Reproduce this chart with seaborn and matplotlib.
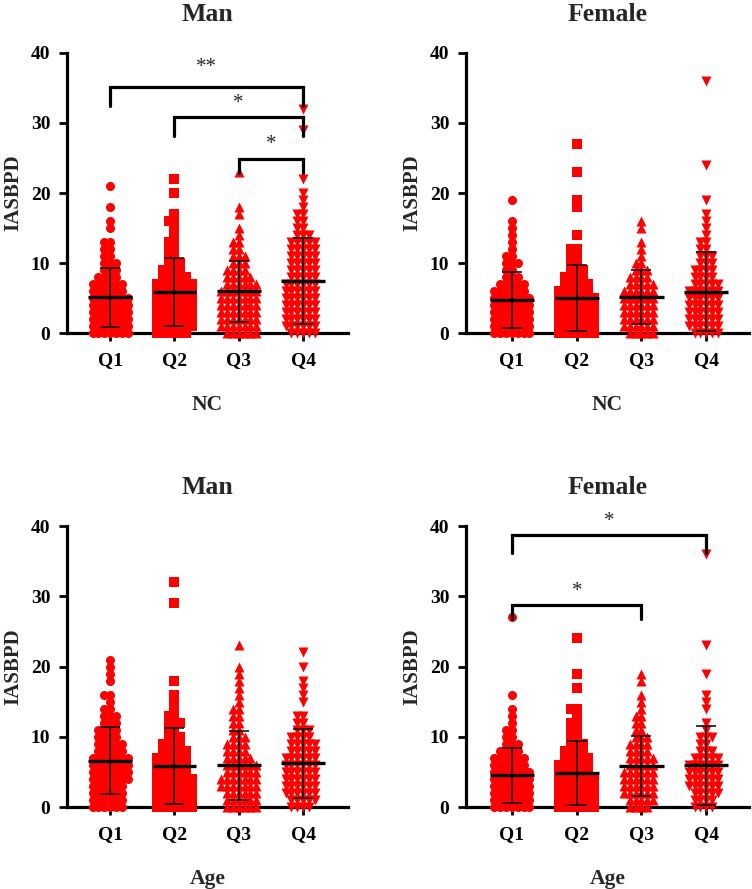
import numpy as np
import matplotlib
matplotlib.use("Agg")
import matplotlib.pyplot as plt
import seaborn as sns

sns.set_theme(style="ticks")
plt.rcParams["font.family"] = ["Liberation Serif", "DejaVu Serif"]
plt.rcParams["font.weight"] = "bold"
plt.rcParams["axes.labelweight"] = "bold"
plt.rcParams["axes.titleweight"] = "bold"

quartiles = ["Q1", "Q2", "Q3", "Q4"]
markers = ["o", "s", "^", "v"]

# number of subjects at each IASBPD score (list index = score) + isolated high scores
man_nc_q1 = [7, 7, 7, 7, 7, 7, 6, 6, 4, 3, 3, 2, 2, 2, 0, 1, 1, 0, 1, 0, 0, 1]
man_nc_q2 = [6, 7, 7, 7, 7, 7, 7, 7, 5, 4, 3, 2, 2, 2, 1, 1, 2, 1, 0, 0, 1, 0, 1]
man_nc_q3 = [6, 7, 7, 7, 7, 7, 7, 6, 5, 4, 3, 3, 2, 2, 1, 1, 0, 1, 1, 0, 0, 0, 0, 1]
man_nc_q4 = [5, 6, 6, 6, 6, 6, 6, 6, 5, 5, 5, 5, 5, 5, 3, 2, 2, 2, 1, 1, 1, 0, 1]
man_nc_q4_high = [29, 32]

fem_nc_q1 = [7, 7, 7, 7, 7, 7, 6, 5, 3, 2, 3, 2, 1, 1, 1, 1, 1, 0, 0, 1]
fem_nc_q2 = [7, 7, 7, 7, 7, 7, 6, 5, 4, 3, 2, 2, 2, 0, 1, 0, 0, 0, 1, 1]
fem_nc_q2_high = [23, 27]
fem_nc_q3 = [5, 6, 6, 6, 6, 6, 6, 5, 4, 3, 2, 1, 1, 1, 0, 1, 1]
fem_nc_q4 = [5, 6, 6, 6, 6, 6, 6, 5, 4, 4, 3, 3, 2, 2, 1, 1, 1, 1, 0, 1]
fem_nc_q4_high = [24, 36]

man_age_q1 = [6, 6, 6, 6, 7, 7, 7, 7, 5, 5, 4, 4, 3, 3, 2, 1, 2, 0, 1, 1, 1, 1]
man_age_q2 = [7, 7, 7, 7, 7, 6, 6, 6, 5, 4, 3, 2, 3, 2, 1, 1, 1, 0, 1]
man_age_q2_high = [29, 32]
man_age_q3 = [6, 6, 6, 7, 7, 6, 6, 5, 4, 4, 3, 2, 2, 2, 2, 1, 1, 1, 1, 1, 1, 0, 0, 1]
man_age_q4 = [4, 5, 6, 6, 6, 6, 6, 6, 5, 5, 4, 3, 2, 2, 0, 1, 1, 1, 1, 0, 1, 0, 1]

fem_age_q1 = [7, 7, 7, 7, 7, 7, 6, 6, 4, 3, 2, 2, 1, 1, 1, 0, 1]
fem_age_q1_high = [27]
fem_age_q2 = [7, 7, 7, 7, 7, 6, 6, 5, 4, 3, 2, 2, 2, 1, 2, 0, 0, 1, 0, 1]
fem_age_q2_high = [24]
fem_age_q3 = [4, 5, 6, 6, 6, 6, 5, 5, 4, 4, 3, 2, 2, 2, 1, 1, 1, 0, 1, 1]
fem_age_q4 = [4, 4, 5, 6, 6, 6, 6, 5, 3, 2, 3, 1, 1, 0, 1, 1, 1, 0, 0, 1]
fem_age_q4_high = [23, 36]

# mean and SD
man_nc_mean = [5.1, 5.9, 5.95, 7.45]
man_nc_sd = [4.25, 4.85, 4.35, 6.15]
fem_nc_mean = [4.7, 5.0, 5.1, 5.9]
fem_nc_sd = [4.05, 4.7, 3.85, 5.65]
man_age_mean = [6.6, 5.8, 5.95, 6.2]
man_age_sd = [4.8, 5.4, 4.9, 4.85]
fem_age_mean = [4.5, 4.85, 5.8, 5.95]
fem_age_sd = [3.9, 4.5, 4.25, 5.6]


def expand(counts, high=()):
    vals = np.repeat(np.arange(len(counts)), counts)
    return np.concatenate([vals, np.asarray(high)]).astype(float)


panels = [
    dict(title="Man", xlabel="NC", rect=[0.0891, 0.6254, 0.3737, 0.3150], xlim=(-0.67, 3.70),
         groups=[expand(man_nc_q1), expand(man_nc_q2), expand(man_nc_q3), expand(man_nc_q4, man_nc_q4_high)],
         mean=man_nc_mean, sd=man_nc_sd,
         brackets=[(0, 3, 35.1, 32.4, "**", 37.9), (1, 3, 30.9, 28.2, "*", 32.8), (2, 3, 24.8, 22.9, "*", 26.9)]),
    dict(title="Female", xlabel="NC", rect=[0.6197, 0.6254, 0.3763, 0.3150], xlim=(-0.71, 3.66),
         groups=[expand(fem_nc_q1), expand(fem_nc_q2, fem_nc_q2_high), expand(fem_nc_q3), expand(fem_nc_q4, fem_nc_q4_high)],
         mean=fem_nc_mean, sd=fem_nc_sd, brackets=[]),
    dict(title="Man", xlabel="Age", rect=[0.0891, 0.0922, 0.3737, 0.3161], xlim=(-0.67, 3.70),
         groups=[expand(man_age_q1), expand(man_age_q2, man_age_q2_high), expand(man_age_q3), expand(man_age_q4)],
         mean=man_age_mean, sd=man_age_sd, brackets=[]),
    dict(title="Female", xlabel="Age", rect=[0.6197, 0.0922, 0.3763, 0.3161], xlim=(-0.71, 3.66),
         groups=[expand(fem_age_q1, fem_age_q1_high), expand(fem_age_q2, fem_age_q2_high), expand(fem_age_q3), expand(fem_age_q4, fem_age_q4_high)],
         mean=fem_age_mean, sd=fem_age_sd,
         brackets=[(0, 3, 38.7, 36.2, "*", 40.7), (0, 2, 28.8, 26.8, "*", 30.7)]),
]

fig = plt.figure(figsize=(7.52, 8.89), dpi=100)
swarms = []

for p in panels:
    ax = fig.add_axes(p["rect"])
    for k, q in enumerate(quartiles):
        vals = p["groups"][k]
        n_before = len(ax.collections)
        sns.swarmplot(x=[q] * len(vals), y=vals, order=quartiles, ax=ax, color="#ff0000",
                      marker=markers[k], size=4.0, linewidth=0, clip_on=False, warn_thresh=1)
        for coll in ax.collections[n_before:]:
            swarms.append((coll, markers[k]))

    xs = np.arange(4)
    ax.errorbar(xs, p["mean"], yerr=p["sd"], fmt="none", ecolor="black", elinewidth=1.1,
                capsize=7.5, capthick=1.1, zorder=5, clip_on=False)
    ax.hlines(p["mean"], xs - 0.34, xs + 0.34, colors="black", lw=2.4, zorder=6)

    for i, j, top, leg, label, ytxt in p["brackets"]:
        ax.plot([i, i, j, j], [leg, top, top, leg], color="black", lw=2.3,
                solid_joinstyle="miter", clip_on=False, zorder=7)
        ax.text((i + j) / 2, ytxt, label, ha="center", va="center", fontsize=15,
                fontweight="normal")

    ax.set_ylim(0, 40)
    ax.set_xlim(*p["xlim"])
    ax.set_yticks([0, 10, 20, 30, 40])
    sns.despine(ax=ax)
    for s in ["left", "bottom"]:
        ax.spines[s].set_linewidth(2.3)
        ax.spines[s].set_color("black")
    ax.tick_params(axis="both", width=2, length=6, color="black", labelsize=14, labelcolor="black")
    ax.tick_params(axis="x", pad=8)
    ax.tick_params(axis="y", pad=6)

    ax.set_title(p["title"], fontsize=18.5, pad=23)
    ax.set_ylabel("IASBPD", fontsize=15)
    ax.set_xlabel(p["xlabel"], fontsize=15.5)
    ax.yaxis.set_label_coords(-0.155, 0.5)
    ax.xaxis.set_label_coords(0.5, -0.222)

# let seaborn lay out the swarms with small markers, then keep that layout and
# draw the markers larger so they overlap like the original dot plot
fig.canvas.draw()
for coll, m in swarms:
    if "draw" in coll.__dict__:
        del coll.draw
    coll.set_sizes([(7.2 if m in "^v" else 6.5) ** 2])

fig.savefig("out.png", dpi=100)
